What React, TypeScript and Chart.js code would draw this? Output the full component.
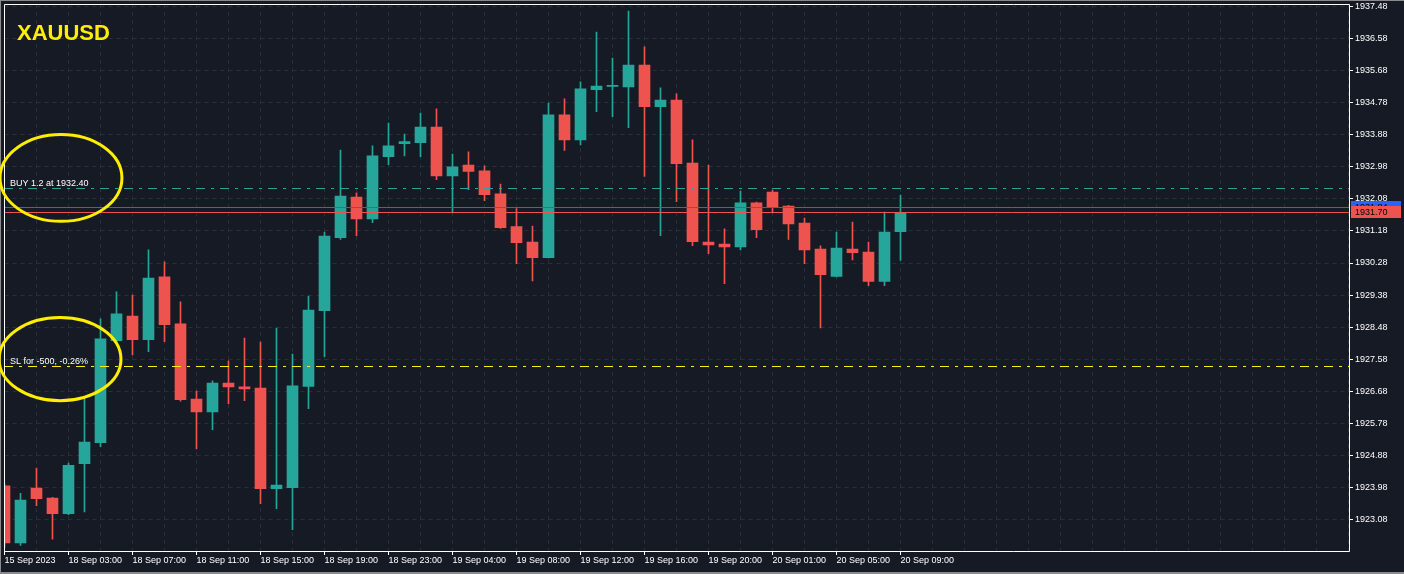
import React, { useEffect, useRef } from 'react';
import { Chart, registerables } from 'chart.js';

Chart.register(...registerables);

// ---------- data ----------
const SYMBOL = 'XAUUSD';

const X_TICK_LABELS = [
  '15 Sep 2023', '18 Sep 03:00', '18 Sep 07:00', '18 Sep 11:00', '18 Sep 15:00',
  '18 Sep 19:00', '18 Sep 23:00', '19 Sep 04:00', '19 Sep 08:00', '19 Sep 12:00',
  '19 Sep 16:00', '19 Sep 20:00', '20 Sep 01:00', '20 Sep 05:00', '20 Sep 09:00',
];

const Y_TICKS = [
  1923.08, 1923.98, 1924.88, 1925.78, 1926.68, 1927.58, 1928.48, 1929.38, 1930.28,
  1931.18, 1932.08, 1932.98, 1933.88, 1934.78, 1935.68, 1936.58, 1937.48,
];

const OPEN = [
  1924.02, 1922.42, 1923.96, 1923.68, 1923.24, 1924.64, 1925.23, 1928.10, 1928.79, 1928.13,
  1929.89, 1928.57, 1926.46, 1926.10, 1926.91, 1926.80, 1926.77, 1923.94, 1923.97, 1926.81,
  1928.94, 1930.99, 1932.13, 1931.52, 1933.27, 1933.63, 1933.66, 1934.10, 1932.73, 1933.03,
  1932.87, 1932.22, 1931.30, 1930.87, 1930.43, 1934.44, 1933.74, 1935.15, 1935.24, 1935.23,
  1935.84, 1934.67, 1934.86, 1933.09, 1930.87, 1930.81, 1930.73, 1931.97, 1932.27, 1931.88,
  1931.40, 1930.67, 1929.90, 1930.67, 1930.59, 1929.76, 1931.16,
];
const HIGH = [
  1924.08, 1923.81, 1924.52, 1923.70, 1924.66, 1926.52, 1928.71, 1929.47, 1929.38, 1930.65,
  1930.31, 1929.19, 1926.68, 1926.97, 1927.53, 1928.17, 1928.06, 1928.45, 1927.72, 1929.35,
  1931.15, 1933.45, 1932.25, 1933.57, 1934.21, 1933.90, 1934.49, 1934.61, 1933.34, 1933.40,
  1933.01, 1932.50, 1931.81, 1931.32, 1934.77, 1934.89, 1935.37, 1936.77, 1936.04, 1937.36,
  1936.35, 1935.20, 1935.03, 1933.74, 1933.03, 1931.24, 1932.30, 1931.99, 1932.33, 1931.90,
  1931.54, 1930.76, 1931.15, 1931.43, 1930.87, 1931.71, 1932.19,
];
const LOW = [
  1922.30, 1922.35, 1923.46, 1922.52, 1923.21, 1923.29, 1925.12, 1928.08, 1927.70, 1927.79,
  1928.07, 1926.40, 1925.06, 1925.60, 1926.33, 1926.41, 1923.52, 1923.38, 1922.79, 1926.19,
  1927.65, 1930.94, 1931.05, 1931.41, 1933.04, 1933.29, 1933.27, 1932.62, 1931.69, 1932.34,
  1932.03, 1931.25, 1930.26, 1929.78, 1930.42, 1933.44, 1933.60, 1934.53, 1934.39, 1934.08,
  1932.71, 1931.05, 1932.00, 1930.77, 1930.54, 1929.70, 1930.65, 1930.99, 1931.69, 1930.94,
  1930.26, 1928.46, 1929.89, 1930.37, 1929.64, 1929.64, 1930.35,
];
const CLOSE = [
  1922.42, 1923.62, 1923.66, 1923.24, 1924.60, 1925.25, 1928.15, 1928.85, 1928.13, 1929.86,
  1928.55, 1926.44, 1926.10, 1926.91, 1926.80, 1926.74, 1923.94, 1924.04, 1926.83, 1928.96,
  1931.04, 1932.16, 1931.52, 1933.29, 1933.57, 1933.69, 1934.10, 1932.73, 1932.98, 1932.85,
  1932.20, 1931.27, 1930.85, 1930.43, 1934.44, 1933.74, 1935.17, 1935.25, 1935.24, 1935.84,
  1934.67, 1934.86, 1933.07, 1930.88, 1930.79, 1930.73, 1931.97, 1931.22, 1931.86, 1931.38,
  1930.65, 1929.95, 1930.70, 1930.57, 1929.76, 1931.15, 1931.70,
];

const BUY_PRICE = 1932.40;
const BUY_TEXT = 'BUY 1.2 at 1932.40';
const SL_PRICE = 1927.38;
const SL_TEXT = 'SL for -500, -0.26%';
const ASK_PRICE = 1931.84;
const BID_PRICE = 1931.70;

// highlight rings (centre in bar index / price, half sizes in bars / price)
const RING_INDEX = [3.53, 3.47];
const RING_PRICE = [1932.67, 1927.58];
const RING_HALF_BARS = [3.81, 3.81];
const RING_HALF_PRICE = [1.22, 1.17];

// view range
const X_MIN = 0;
const X_MAX = 84.03125;
const Y_MIN = 1922.19;
const Y_MAX = 1937.556;

// ---------- styles ----------
const BG = '#161a25';
const GRID = '#2a2e39';
const BULL = '#26a69a';
const BEAR = '#ef5350';
const AXIS_FG = '#ffffff';
const YELLOW = '#ffee00';
const WINDOW_EDGE = '#8a8a8a';
const FONT = '"Liberation Sans", Arial, sans-serif';

const decor = {
  id: 'decor',
  beforeDraw(chart: any) {
    const { ctx, width, height } = chart;
    ctx.save();
    ctx.fillStyle = BG;
    ctx.fillRect(0, 0, width, height);
    ctx.restore();
  },
  afterDatasetsDraw(chart: any) {
    const { ctx, chartArea: a, scales } = chart;
    const y = scales.y;
    const line = (price: number, color: string, dash: number[]) => {
      const py = Math.round(y.getPixelForValue(price)) + 0.5;
      ctx.save();
      ctx.beginPath();
      ctx.rect(a.left, a.top, a.right - a.left, a.bottom - a.top);
      ctx.clip();
      ctx.strokeStyle = color;
      ctx.lineWidth = 1;
      ctx.setLineDash(dash);
      ctx.lineDashOffset = 0;
      ctx.beginPath();
      ctx.moveTo(Math.floor(a.left), py);
      ctx.lineTo(a.right, py);
      ctx.stroke();
      ctx.restore();
      return py;
    };
    const pyBuy = line(BUY_PRICE, BULL, [9, 6, 3, 6]);
    line(ASK_PRICE, '#2962ff', []);
    line(BID_PRICE, BEAR, []);
    const pySl = line(SL_PRICE, YELLOW, [9, 6, 3, 6]);

    ctx.save();
    ctx.fillStyle = '#ffffff';
    ctx.font = `9px ${FONT}`;
    ctx.textBaseline = 'alphabetic';
    ctx.textAlign = 'left';
    ctx.fillText(BUY_TEXT, 10, pyBuy - 2.5);
    ctx.fillText(SL_TEXT, 10, pySl - 2.5);
    ctx.restore();
  },
  afterDraw(chart: any) {
    const { ctx, chartArea: a, scales, width, height } = chart;
    const x = scales.x;
    const y = scales.y;
    ctx.save();
    // frame
    ctx.strokeStyle = AXIS_FG;
    ctx.lineWidth = 1;
    ctx.beginPath();
    ctx.rect(Math.floor(a.left) + 0.5, Math.floor(a.top) + 0.5,
      Math.round(a.right) - Math.floor(a.left), Math.round(a.bottom) - Math.floor(a.top));
    ctx.stroke();

    // window edge
    ctx.fillStyle = WINDOW_EDGE;
    ctx.fillRect(0, 0, width, 1);
    ctx.fillRect(0, 0, 1, height);
    ctx.fillRect(0, height - 2, width, 2);

    // price tags on the axis
    const tag = (price: number, color: string) => {
      const py = y.getPixelForValue(price);
      ctx.fillStyle = color;
      ctx.fillRect(Math.round(a.right) + 2, Math.round(py) - 6, 50, 12);
      ctx.fillStyle = '#000000';
      ctx.font = `9px ${FONT}`;
      ctx.textBaseline = 'middle';
      ctx.textAlign = 'left';
      ctx.fillText(price.toFixed(2), Math.round(a.right) + 6, Math.round(py) + 0.5);
    };
    tag(ASK_PRICE, '#2962ff');
    tag(BID_PRICE, BEAR);

    // symbol
    ctx.fillStyle = YELLOW;
    ctx.font = `bold 22px ${FONT}`;
    ctx.textBaseline = 'alphabetic';
    ctx.textAlign = 'left';
    ctx.fillText(SYMBOL, 17, 40);

    // rings
    ctx.strokeStyle = YELLOW;
    ctx.lineWidth = 3;
    for (let i = 0; i < RING_INDEX.length; i++) {
      const cx = x.getPixelForValue(RING_INDEX[i]);
      const cy = y.getPixelForValue(RING_PRICE[i]);
      const rx = x.getPixelForValue(RING_INDEX[i] + RING_HALF_BARS[i]) - cx;
      const ry = cy - y.getPixelForValue(RING_PRICE[i] + RING_HALF_PRICE[i]);
      ctx.beginPath();
      ctx.ellipse(cx, cy, rx, ry, 0, 0, Math.PI * 2);
      ctx.stroke();
    }
    ctx.restore();
  },
};

export default function App() {
  const ref = useRef<HTMLCanvasElement | null>(null);

  useEffect(() => {
    document.body.style.margin = '0';
    document.body.style.background = BG;
    const canvas = ref.current;
    if (!canvas) return;

    const colors = OPEN.map((o, i) => (CLOSE[i] >= o ? BULL : BEAR));
    const bodies = OPEN.map((o, i) => ({ x: i, y: [o, CLOSE[i]] }));
    const wicks = OPEN.map((_, i) => ({ x: i, y: [LOW[i], HIGH[i]] }));
    const xTickValues: number[] = [];
    for (let v = 0; v <= Math.floor(X_MAX); v += 2) xTickValues.push(v);
    const labelFor = (v: number) => {
      const r = Math.round(v);
      if (r % 4 === 0 && r / 4 < X_TICK_LABELS.length) return X_TICK_LABELS[r / 4];
      return '';
    };

    const chart = new Chart(canvas, {
      type: 'bar',
      data: {
        datasets: [
          {
            data: bodies as any,
            backgroundColor: colors,
            borderWidth: 0,
            barThickness: 11,
            minBarLength: 1,
            grouped: false,
          } as any,
          {
            data: wicks as any,
            backgroundColor: colors,
            borderWidth: 0,
            barThickness: 1,
            grouped: false,
          } as any,
        ],
      },
      plugins: [decor],
      options: {
        animation: false,
        responsive: false,
        events: [],
        layout: { padding: { left: 4.5, top: 4, right: 0, bottom: 0 } },
        plugins: { legend: { display: false }, tooltip: { enabled: false }, title: { display: false } },
        scales: {
          x: {
            type: 'linear',
            position: 'bottom',
            min: X_MIN,
            max: X_MAX,
            offset: false,
            afterBuildTicks: (s: any) => {
              s.ticks = xTickValues.map((v) => ({ value: v }));
            },
            afterFit: (s: any) => {
              s.height = 23;
              s.paddingLeft = 0;
              s.paddingRight = 0;
              s.paddingTop = 0;
              s.paddingBottom = 0;
            },
            ticks: {
              autoSkip: false,
              maxRotation: 0,
              minRotation: 0,
              align: 'start',
              padding: 0,
              color: AXIS_FG,
              font: { family: FONT, size: 9 },
              callback: (v: any) => labelFor(Number(v)),
            },
            grid: {
              offset: false,
              color: GRID,
              lineWidth: 1,
              tickLength: 4,
              tickColor: (c: any) => (c.tick && labelFor(c.tick.value) ? AXIS_FG : 'rgba(0,0,0,0)'),
            },
            border: { display: false, dash: [4, 4] },
          } as any,
          y: {
            type: 'linear',
            position: 'right',
            min: Y_MIN,
            max: Y_MAX,
            afterBuildTicks: (s: any) => {
              s.ticks = Y_TICKS.map((v) => ({ value: v }));
            },
            afterFit: (s: any) => {
              s.width = 55;
              s.paddingLeft = 0;
              s.paddingRight = 0;
              s.paddingTop = 0;
              s.paddingBottom = 0;
            },
            ticks: {
              padding: 2,
              color: AXIS_FG,
              font: { family: FONT, size: 9 },
              callback: (v: any) => Number(v).toFixed(2),
            },
            grid: {
              color: GRID,
              lineWidth: 1,
              tickLength: 4,
              tickColor: AXIS_FG,
            },
            border: { display: false, dash: [4, 4] },
          } as any,
        },
      } as any,
    });
    return () => chart.destroy();
  }, []);

  return (
    <div style={{ width: 1404, height: 574, background: BG }}>
      <canvas ref={ref} width={1404} height={574} style={{ display: 'block' }} />
    </div>
  );
}
